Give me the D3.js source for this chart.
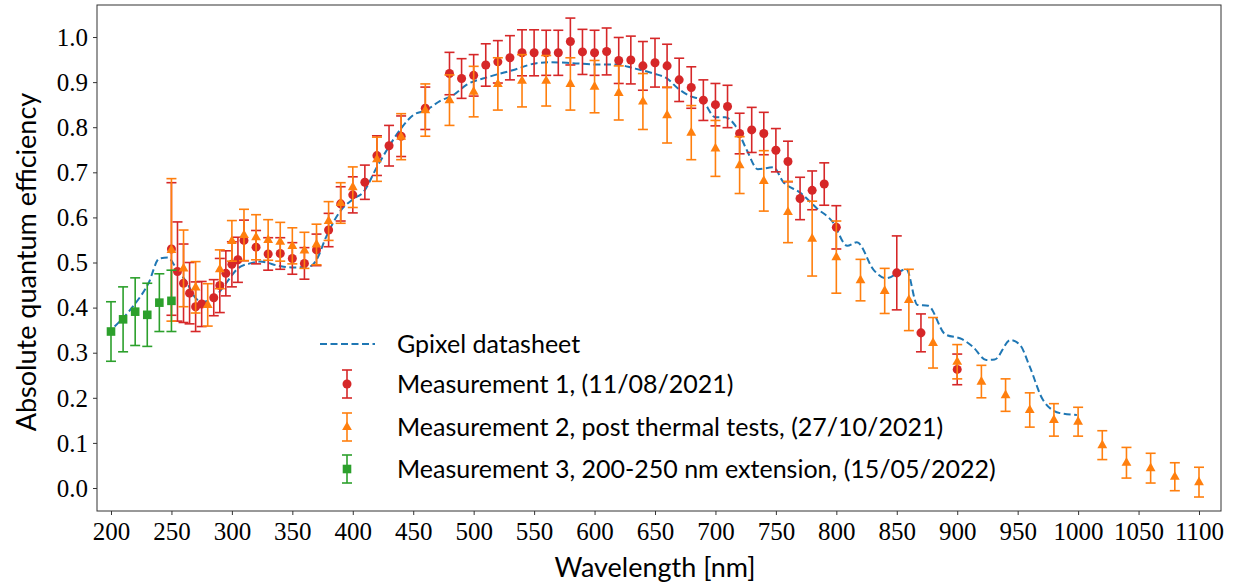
<!DOCTYPE html>
<html><head><meta charset="utf-8">
<script src="https://cdn.jsdelivr.net/npm/d3@7"></script>
<style>body{margin:0;background:#fff}svg{display:block}</style>
</head><body>
<svg id="c" width="1241" height="585"></svg>
<script>
// ---- data ----
const xTicks = [200,250,300,350,400,450,500,550,600,650,700,750,800,850,900,950,1000,1050,1100];
const yTicks = [0.0,0.1,0.2,0.3,0.4,0.5,0.6,0.7,0.8,0.9,1.0];

const dsWl = [203,218,231,240,247,254,263,270,276,286,296,305,315,323,340,351,365,370,378,390,400,409,420,429,439,450,461,472,483,494,513,533,552,563,582,602,618,632,649,660,669,679,689,700,708,716,726,735,748,756,770,784,797,809,817,831,841,858,867,876,890,904,913,924,931,944,952,960,971,985,999];
const dsQe = [0.358,0.402,0.454,0.509,0.511,0.487,0.454,0.421,0.413,0.424,0.457,0.487,0.498,0.502,0.492,0.489,0.492,0.506,0.557,0.615,0.640,0.657,0.712,0.753,0.794,0.827,0.838,0.858,0.871,0.894,0.912,0.927,0.942,0.944,0.942,0.939,0.939,0.931,0.919,0.908,0.886,0.869,0.860,0.822,0.822,0.805,0.749,0.707,0.711,0.679,0.655,0.620,0.590,0.537,0.545,0.483,0.465,0.485,0.406,0.404,0.341,0.330,0.313,0.284,0.285,0.328,0.317,0.269,0.195,0.166,0.162];

const m1Wl = [250,255,260,265,270,275,285,290,295,300,305,310,320,330,340,350,360,370,380,390,400,410,420,430,440,460,480,490,500,510,520,530,540,550,560,570,580,590,600,610,620,630,640,650,660,670,680,690,700,710,720,730,740,750,760,770,780,790,800,850,870,900];
const m1Qe = [0.530,0.480,0.454,0.432,0.402,0.408,0.422,0.449,0.476,0.496,0.506,0.549,0.534,0.519,0.520,0.509,0.498,0.528,0.572,0.630,0.650,0.678,0.737,0.759,0.780,0.842,0.919,0.908,0.915,0.938,0.945,0.954,0.965,0.965,0.965,0.965,0.990,0.967,0.965,0.968,0.948,0.949,0.936,0.943,0.936,0.905,0.888,0.860,0.850,0.846,0.786,0.794,0.786,0.749,0.724,0.642,0.660,0.674,0.578,0.477,0.344,0.263];
const m1Err = [0.147,0.110,0.087,0.068,0.055,0.050,0.040,0.060,0.050,0.050,0.050,0.045,0.037,0.036,0.035,0.035,0.035,0.035,0.037,0.038,0.040,0.038,0.044,0.045,0.045,0.047,0.047,0.044,0.046,0.047,0.047,0.049,0.051,0.051,0.050,0.050,0.052,0.050,0.050,0.052,0.051,0.053,0.054,0.054,0.048,0.048,0.046,0.045,0.047,0.047,0.045,0.050,0.047,0.048,0.045,0.047,0.043,0.047,0.048,0.082,0.042,0.034];

const m2Wl = [250,260,270,280,290,300,310,320,330,340,350,360,370,380,390,400,420,440,460,480,500,520,540,560,580,600,620,640,660,680,700,720,740,760,780,800,820,840,860,880,900,920,940,960,980,1000,1020,1040,1060,1080,1100];
const m2Qe = [0.528,0.487,0.445,0.406,0.485,0.548,0.561,0.556,0.550,0.546,0.537,0.527,0.540,0.592,0.632,0.667,0.729,0.779,0.838,0.860,0.879,0.896,0.903,0.903,0.896,0.890,0.876,0.857,0.827,0.788,0.753,0.716,0.681,0.612,0.553,0.512,0.461,0.437,0.417,0.322,0.280,0.236,0.206,0.173,0.151,0.147,0.095,0.056,0.044,0.025,0.013];
const m2Err = [0.158,0.085,0.057,0.047,0.043,0.045,0.057,0.050,0.045,0.043,0.040,0.040,0.045,0.043,0.045,0.045,0.049,0.051,0.058,0.056,0.056,0.058,0.058,0.056,0.058,0.058,0.060,0.062,0.062,0.060,0.062,0.063,0.067,0.068,0.083,0.080,0.046,0.050,0.068,0.056,0.038,0.036,0.036,0.038,0.036,0.032,0.032,0.034,0.033,0.031,0.033];

const m3Wl = [200,210,220,230,240,250];
const m3Qe = [0.347,0.374,0.391,0.384,0.411,0.415];
const m3Err = [0.066,0.072,0.075,0.070,0.064,0.068];

const legendLabels = ["Gpixel datasheet","Measurement 1, (11/08/2021)","Measurement 2, post thermal tests, (27/10/2021)","Measurement 3, 200-250 nm extension, (15/05/2022)"];

// ---- layout ----
const L = 97, T = 5, R = 1221, B = 511;
const x = d3.scaleLinear().domain([188.42, 1118.2]).range([L, R]);
const y = d3.scaleLinear().domain([-0.051, 1.071]).range([B, T]);

const C = {blue:"#1f77b4", red:"#d62728", orange:"#ff7f0e", green:"#2ca02c"};
const svg = d3.select("#c");
const tickFont = "'Liberation Serif', serif";
const labFont = "Lato, 'Open Sans', sans-serif";

// axes
const gx = svg.append("g").attr("transform", `translate(0,${B})`)
  .call(d3.axisBottom(x).tickValues(xTicks).tickSize(4).tickPadding(4).tickFormat(d3.format("d")));
const gy = svg.append("g").attr("transform", `translate(${L},0)`)
  .call(d3.axisLeft(y).tickValues(yTicks).tickSize(4).tickPadding(5).tickFormat(d3.format(".1f")));
[gx, gy].forEach(g => {
  g.select(".domain").remove();
  g.selectAll(".tick line").attr("stroke", "#333").attr("stroke-width", 1);
  g.selectAll(".tick text").attr("font-family", tickFont).attr("font-size", 25).attr("fill", "#000");
});
gx.selectAll(".tick text").attr("dy", "0.85em");
gy.selectAll(".tick text").attr("dy", "0.33em");

// clip
svg.append("clipPath").attr("id", "clip").append("rect").attr("x", L).attr("y", T).attr("width", R - L).attr("height", B - T);
const plot = svg.append("g").attr("clip-path", "url(#clip)");

// datasheet line
const ds = dsWl.map((w, i) => [w, dsQe[i]]);
plot.append("path").datum(ds)
  .attr("d", d3.line().x(d => x(d[0])).y(d => y(d[1])).curve(d3.curveMonotoneX))
  .attr("fill", "none").attr("stroke", C.blue).attr("stroke-width", 2).attr("stroke-dasharray", "7,3.5");

const cap = 5;
function errSeries(wl, qe, err, color, shape) {
  const g = plot.append("g");
  const data = wl.map((w, i) => ({w, v: qe[i], e: err[i]}));
  const eb = g.selectAll(".eb").data(data).enter().append("g");
  eb.append("line").attr("x1", d => x(d.w)).attr("x2", d => x(d.w))
    .attr("y1", d => y(d.v - d.e)).attr("y2", d => y(d.v + d.e))
    .attr("stroke", color).attr("stroke-width", 1.6);
  [-1, 1].forEach(s => {
    eb.append("line").attr("x1", d => x(d.w) - cap).attr("x2", d => x(d.w) + cap)
      .attr("y1", d => y(d.v + s * d.e)).attr("y2", d => y(d.v + s * d.e))
      .attr("stroke", color).attr("stroke-width", 1.6);
  });
  g.selectAll(".mk").data(data).enter().append("path")
    .attr("transform", d => `translate(${x(d.w)},${y(d.v)})`)
    .attr("d", shape).attr("fill", color);
}
const circ = d3.symbol(d3.symbolCircle, 64)();
const tri = "M0,-5.6L4.9,3.1L-4.9,3.1Z";
const sq = "M-4.3,-4.3H4.3V4.3H-4.3Z";
errSeries(m1Wl, m1Qe, m1Err, C.red, circ);
errSeries(m2Wl, m2Qe, m2Err, C.orange, tri);
errSeries(m3Wl, m3Qe, m3Err, C.green, sq);

// frame
svg.append("rect").attr("x", L).attr("y", T).attr("width", R - L).attr("height", B - T)
  .attr("fill", "none").attr("stroke", "#333").attr("stroke-width", 1);

// axis labels
svg.append("text").attr("x", 655).attr("y", 577).attr("text-anchor", "middle")
  .attr("font-family", labFont).attr("font-size", 27).text("Wavelength [nm]");
svg.append("text").attr("transform", "translate(36,262) rotate(-90)").attr("text-anchor", "middle")
  .attr("font-family", labFont).attr("font-size", 27).text("Absolute quantum efficiency");

// legend
const lg = svg.append("g");
const ly = [344, 384, 427, 469];
lg.append("line").attr("x1", 320).attr("x2", 375).attr("y1", ly[0]).attr("y2", ly[0])
  .attr("stroke", C.blue).attr("stroke-width", 2).attr("stroke-dasharray", "7,3.5");
[[C.red, circ], [C.orange, tri], [C.green, sq]].forEach(([col, shp], i) => {
  const cy = ly[i + 1], cx = 347;
  lg.append("line").attr("x1", cx).attr("x2", cx).attr("y1", cy - 14).attr("y2", cy + 14).attr("stroke", col).attr("stroke-width", 1.6);
  [-14, 14].forEach(o => lg.append("line").attr("x1", cx - cap).attr("x2", cx + cap).attr("y1", cy + o).attr("y2", cy + o).attr("stroke", col).attr("stroke-width", 1.6));
  lg.append("path").attr("transform", `translate(${cx},${cy})`).attr("d", shp).attr("fill", col);
});
legendLabels.forEach((t, i) => {
  lg.append("text").attr("x", 397).attr("y", ly[i]).attr("dy", "0.35em")
    .attr("font-family", labFont).attr("font-size", 25).text(t);
});
</script>
</body></html>
